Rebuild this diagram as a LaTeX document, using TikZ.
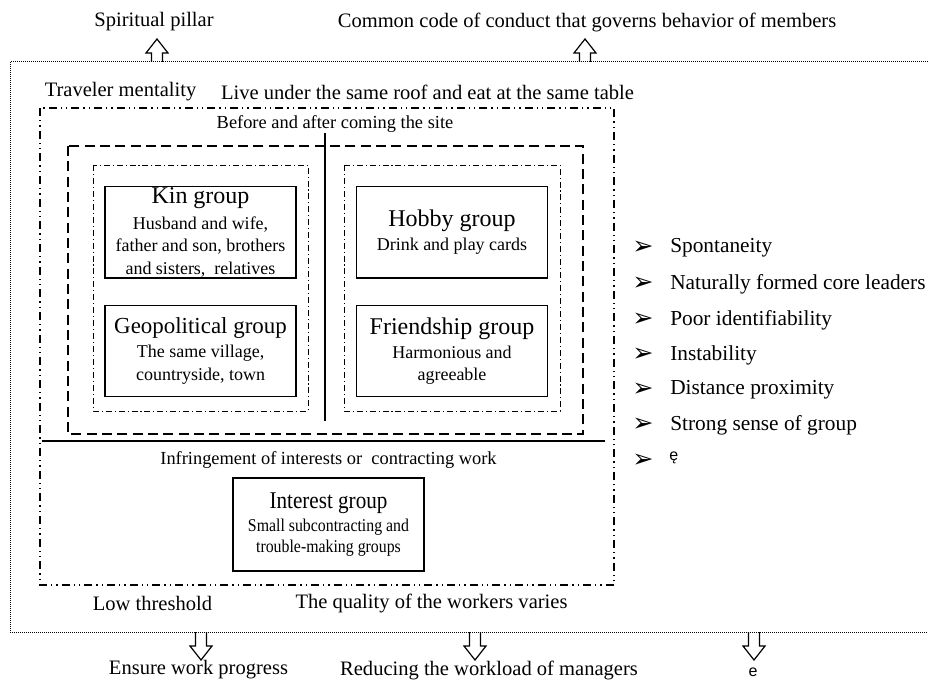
\documentclass[tikz,border=0pt]{standalone}
\usepackage{fontspec}
\setmainfont{Liberation Serif}
\newfontfamily\dingfont{DejaVu Sans}
\newfontfamily\thinsans{Liberation Sans}
\newcommand{\titlef}{\fontsize{18}{20}\selectfont}
\newcommand{\geotitlef}{\fontsize{17.2}{20}\selectfont}
\newcommand{\subf}{\fontsize{13.5}{17}\selectfont}
\newcommand{\narrowf}{\fontsize{13.5}{15.5}\selectfont\addfontfeatures{FakeStretch=0.88}}
\begin{document}
\begin{tikzpicture}[x=0.75pt,y=-0.75pt,
  lbl/.style={font=\fontsize{15.4}{18}\selectfont, inner sep=0pt},
  smalllbl/.style={font=\fontsize{13.8}{16}\selectfont, inner sep=0pt},
  grp/.style={draw, line width=1pt, align=center, inner sep=0pt,
    minimum width=143.25pt, minimum height=68.5pt, font=\subf},
  bullet/.style={font=\dingfont\fontsize{19}{21}\selectfont, inner sep=0pt},
  btext/.style={font=\fontsize{16}{19}\selectfont, inner sep=0pt, anchor=west},
  frame/.style={line width=0.75pt, dash pattern=on 0.75pt off 0.75pt},
  ddbox/.style={line width=1.1pt, dash pattern=on 6pt off 3pt on 1pt off 3pt on 1pt off 3pt},
  dashbox/.style={line width=1.1pt, dash pattern=on 7.5pt off 4pt},
  dotdashbox/.style={line width=0.6pt, dash pattern=on 4.5pt off 2.2pt on 0.8pt off 2.2pt},
  divider/.style={line width=1.4pt},
  uparr/.pic={\draw[line width=0.9pt] (-5.5,0) -- (-5.5,-9) -- (-11,-9) -- (0,-23) -- (11,-9) -- (5.5,-9) -- (5.5,0);},
  downarr/.pic={\draw[line width=0.9pt] (-5.5,0) -- (-5.5,14) -- (-11,14) -- (0,28) -- (11,14) -- (5.5,14) -- (5.5,0);}
]
\useasboundingbox (0,0) rectangle (928,684);

% top labels and upward arrows
\node[lbl] (pillar) at (154,22) {Spiritual pillar};
\node[lbl] (code) at (587,22) {Common code of conduct that governs behavior of members};
\pic at (157,62) {uparr};
\pic at (585,62) {uparr};

% outer dotted frame (open on the right)
\draw[frame] (928,62) -- (10,62) -- (10,632) -- (928,632);

% labels inside the frame
\node[lbl] (traveler) at (120.5,92) {Traveler mentality};
\node[lbl] (roof) at (427.5,92) {Live under the same roof and eat at the same table};

% nested boxes
\draw[ddbox] (40,108) rectangle (614,585);
\node[smalllbl] (before) at (335,124) {Before and after coming the site};
\draw[dashbox] (68,146) rectangle (583,434);
\draw[dotdashbox] (93,165) rectangle (308,411);
\draw[dotdashbox] (344,165) rectangle (560,411);
\draw[divider] (325,133) -- (325,421);
\draw[divider] (42,441) -- (605,441);

% group boxes
\node[grp] (kin) at (200.5,232.5) {{\titlef Kin group}\\[2pt]Husband and wife,\\father and son, brothers\\and sisters,\ \ relatives};
\node[grp] (geo) at (200.5,351) {{\geotitlef Geopolitical group}\\[1pt]The same village,\\countryside, town};
\node[grp] (hobby) at (452,232.5) {{\titlef Hobby group}\\[1pt]Drink and play cards};
\node[grp] (friend) at (452,351) {{\titlef Friendship group}\\[1pt]Harmonious and\\agreeable};

\node[smalllbl] (infr) at (328.5,460) {Infringement of interests or\ \ contracting work};
\node[grp, minimum height=69.75pt, font=\narrowf] (interest) at (328.5,524.5) {{\titlef Interest group}\\[2pt]Small subcontracting and\\trouble-making groups};

% bottom labels inside the frame
\node[lbl] (threshold) at (152.5,603) {Low threshold};
\node[lbl] (quality) at (431.5,603) {The quality of the workers varies};

% characteristics list
\foreach \i/\yy/\txt in {1/248/Spontaneity, 2/284/Naturally formed core leaders, 3/320/Poor identifiability, 4/355/Instability, 5/390/Distance proximity, 6/425/Strong sense of group}{
  \node[bullet] (b\i) at (643,\yy) {➢};
  \node[btext] (t\i) at (670,\yy) {\txt};
}
\node[bullet] (b7) at (643,461) {➢};
\node[inner sep=0pt, anchor=west, font=\thinsans\fontsize{12}{14}\selectfont] (t7) at (669,458) {ę};

% downward arrows and outcomes
\pic at (201,632) {downarr};
\pic at (475,632) {downarr};
\pic at (754,632) {downarr};
\node[lbl] (progress) at (198.5,670) {Ensure work progress};
\node[lbl] (workload) at (489,670) {Reducing the workload of managers};
\node[inner sep=0pt, font=\thinsans\fontsize{12}{14}\selectfont] (eout) at (753,672) {e};
\end{tikzpicture}
\end{document}
